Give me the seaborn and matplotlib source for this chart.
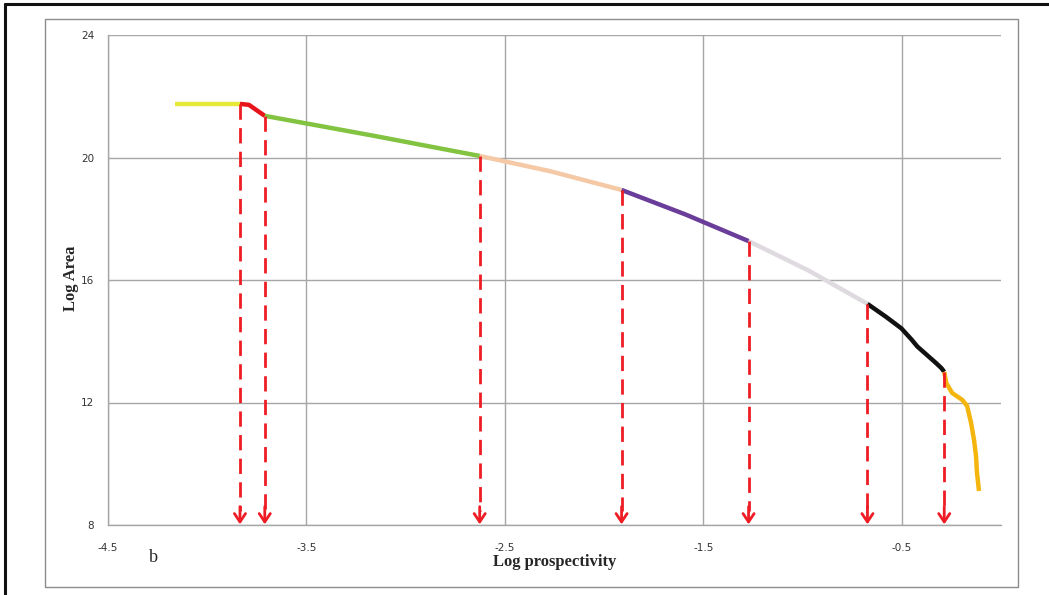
import matplotlib
matplotlib.use("Agg")
import matplotlib.pyplot as plt
import seaborn as sns
import pandas as pd
from matplotlib.patches import Rectangle
from matplotlib.lines import Line2D

# ---- data ----
seg_names = ["yellow", "red", "green", "peach", "purple", "lavender", "black", "orange"]
seg_colors = ["#e8e83a", "#e8141c", "#82c341", "#f5c9a5", "#6a3d9a", "#dedadf", "#111111", "#f5b50f"]

yellow_x = [-4.16, -3.835]
yellow_y = [21.75, 21.75]
red_x = [-3.835, -3.79, -3.71]
red_y = [21.75, 21.72, 21.36]
green_x = [-3.71, -3.17, -2.627]
green_y = [21.36, 20.72, 20.05]
peach_x = [-2.627, -2.27, -1.912]
peach_y = [20.05, 19.55, 18.94]
purple_x = [-1.912, -1.59, -1.272]
purple_y = [18.94, 18.14, 17.27]
lavender_x = [-1.272, -0.97, -0.673]
lavender_y = [17.27, 16.31, 15.22]
black_x = [-0.673, -0.58, -0.502, -0.45, -0.422, -0.326, -0.30, -0.286]
black_y = [15.22, 14.80, 14.42, 14.05, 13.83, 13.28, 13.12, 13.00]
orange_x = [-0.286, -0.276, -0.246, -0.196, -0.171, -0.151, -0.136, -0.126, -0.121, -0.111]
orange_y = [13.00, 12.64, 12.31, 12.09, 11.89, 11.34, 10.78, 10.26, 9.70, 9.11]

arrow_x = [-3.835, -3.71, -2.627, -1.912, -1.272, -0.673, -0.286]
arrow_top = [21.75, 21.36, 20.05, 18.94, 17.27, 15.22, 13.00]

x_ticks = [-4.5, -3.5, -2.5, -1.5, -0.5]
x_tick_labels = ["-4.5", "-3.5", "-2.5", "-1.5", "-0.5"]
y_ticks = [8, 12, 16, 20, 24]
y_tick_labels = ["8", "12", "16", "20", "24"]

# ---- build frame ----
xs = [yellow_x, red_x, green_x, peach_x, purple_x, lavender_x, black_x, orange_x]
ys = [yellow_y, red_y, green_y, peach_y, purple_y, lavender_y, black_y, orange_y]
rows = []
for name, sx, sy in zip(seg_names, xs, ys):
    for i, (a, b) in enumerate(zip(sx, sy)):
        rows.append({"seg": name, "order": i, "x": a, "y": b})
df = pd.DataFrame(rows)

sns.set_style("white")
fig = plt.figure(figsize=(10.49, 5.95), dpi=100)
ax = fig.add_axes([108/1049, 1-525/595, (1001-108)/1049, (525-35)/595])

sns.lineplot(data=df, x="x", y="y", hue="seg", hue_order=seg_names,
             palette=dict(zip(seg_names, seg_colors)), sort=False,
             estimator=None, units="seg", linewidth=3.2, legend=False, ax=ax,
             solid_capstyle="butt")

red = "#ee1c25"
for xa, yt in zip(arrow_x, arrow_top):
    ax.plot([xa, xa], [yt, 8.45], color=red, lw=2.0, linestyle=(0, (5.5, 3)), zorder=3)
    ax.annotate("", xy=(xa, 8.02), xytext=(xa, 8.6),
                arrowprops=dict(arrowstyle="->,head_length=0.6,head_width=0.4",
                                color=red, lw=2.0, shrinkA=0, shrinkB=0), zorder=3)

ax.set_xlim(-4.5, 0)
ax.set_ylim(8, 24)
ax.set_xticks(x_ticks)
ax.set_xticklabels(x_tick_labels)
ax.set_yticks(y_ticks)
ax.set_yticklabels(y_tick_labels)
ax.grid(True, color="#a6a6a6", lw=1)
ax.set_axisbelow(True)
for s in ["top", "right"]:
    ax.spines[s].set_visible(False)
for s in ["left", "bottom"]:
    ax.spines[s].set_color("#a6a6a6")
    ax.spines[s].set_linewidth(1)
ax.tick_params(length=0, labelsize=7.5, labelcolor="#333333")
ax.tick_params(axis="x", pad=13)
ax.tick_params(axis="y", pad=10)
ax.set_xlabel("")
ax.set_ylabel("")

fig.text(555/1049, 1-562/595, "Log prospectivity", family="Liberation Serif",
         fontweight="bold", fontsize=12, ha="center", va="center")
fig.text(71/1049, 1-278/595, "Log Area", family="Liberation Serif",
         fontweight="bold", fontsize=12, ha="center", va="center", rotation=90)
fig.text(153/1049, 1-557/595, "b", family="Liberation Serif",
         fontsize=13, ha="center", va="center")

# frames
fig.patches.append(Rectangle((45/1049, 1-587/595), (1018-45)/1049, (587-19)/595,
                             transform=fig.transFigure, fill=False,
                             edgecolor="#8c8c8c", lw=1))
fig.lines.append(Line2D([5/1049, 5/1049], [0, 1-4/595], transform=fig.transFigure,
                        color="#111111", lw=2.2))
fig.lines.append(Line2D([5/1049, 1], [1-4/595, 1-4/595], transform=fig.transFigure,
                        color="#111111", lw=2.2))

fig.savefig("out.png", dpi=100, facecolor="white")
